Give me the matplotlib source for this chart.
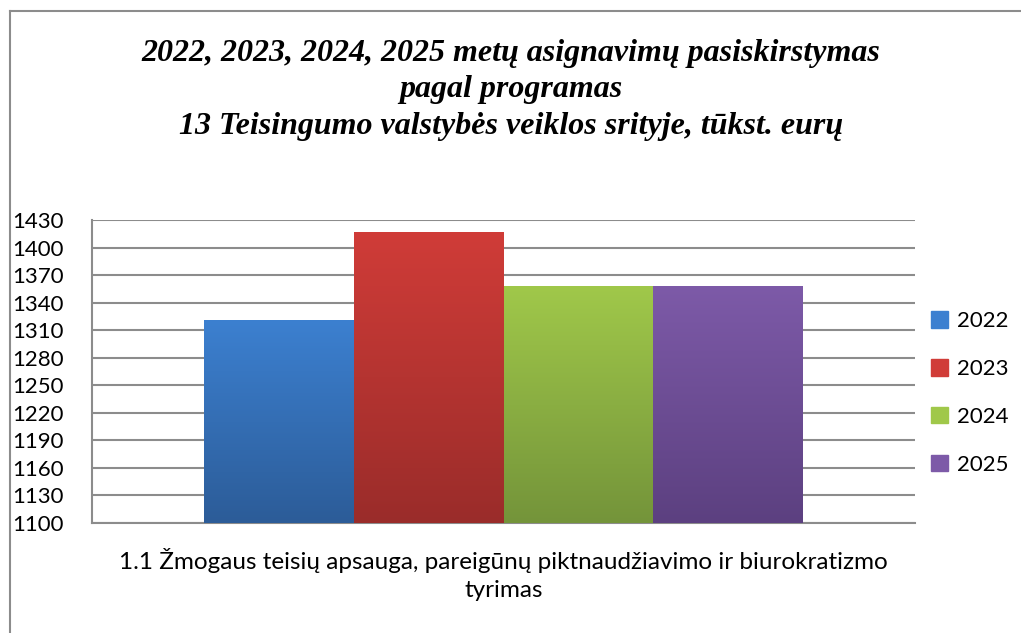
import matplotlib.pyplot as plt
import numpy as np
from matplotlib.colors import LinearSegmentedColormap
from matplotlib.lines import Line2D

# data
years = ['2022', '2023', '2024', '2025']
values = [1321, 1417, 1358, 1358]
category = '1.1 Žmogaus teisių apsauga, pareigūnų piktnaudžiavimo ir biurokratizmo\ntyrimas'
yticks = [1100, 1130, 1160, 1190, 1220, 1250, 1280, 1310, 1340, 1370, 1400, 1430]

# gradient colours (top, bottom)
colors_top = ['#3C80D0', '#D03C38', '#A0C84A', '#7D5AA8']
colors_bot = ['#2C5C98', '#9A2C2A', '#74943A', '#5C4080']

fig = plt.figure(figsize=(10.21, 6.33), dpi=100)
fig.patch.set_facecolor('white')

# outer frame (clipped at right and bottom like the source)
fig.add_artist(Line2D([10/1021, 10/1021], [0, 1 - 11/633], color='#8c8c8c', lw=1.5))
fig.add_artist(Line2D([10/1021, 1], [1 - 11/633, 1 - 11/633], color='#8c8c8c', lw=1.5))

ax = fig.add_axes([92/1021, 1 - 523/633, (915 - 92)/1021, (523 - 220)/633])

width = 0.182
offsets = (np.arange(len(years)) - 1.5) * width

grad = np.linspace(0, 1, 256).reshape(-1, 1)
for i, (yr, v) in enumerate(zip(years, values)):
    bar = ax.bar(offsets[i], v - 1100, width, bottom=1100, color=colors_top[i],
                 label=yr, zorder=3, linewidth=0)[0]
    cmap = LinearSegmentedColormap.from_list('g%d' % i, [colors_bot[i], colors_top[i]])
    x0 = bar.get_x()
    im = ax.imshow(grad, cmap=cmap, aspect='auto', origin='lower',
                   extent=[x0, x0 + bar.get_width(), 1100, v], zorder=3)
    im.set_clip_path(bar)
    bar.set_facecolor('none')

ax.set_xlim(-0.5, 0.5)
ax.set_ylim(1100, 1430)
ax.set_yticks(yticks)
ax.set_yticklabels([str(t) for t in yticks], fontsize=16, family='Lato')
for lbl in ax.get_yticklabels():
    lbl.set_horizontalalignment('left')
ax.tick_params(axis='y', length=0, pad=57.5)
ax.set_xticks([0])
ax.set_xticklabels([category], fontsize=17.5, family='Lato', linespacing=1.4)
ax.tick_params(axis='x', length=0, pad=18)

ax.grid(axis='y', color='#8c8c8c', lw=1.5, zorder=0)
ax.set_axisbelow(True)
for s in ['top', 'right']:
    ax.spines[s].set_visible(False)
for s in ['left', 'bottom']:
    ax.spines[s].set_color('#8c8c8c')
    ax.spines[s].set_linewidth(1.5)

# legend
handles = [plt.Rectangle((0, 0), 1, 1, color=colors_top[i]) for i in range(len(years))]
fig.legend(handles, years, loc='center left', bbox_to_anchor=(911/1021, 1 - 393/633),
           frameon=False, prop={'family': 'Lato', 'size': 16},
           handlelength=0.75, handleheight=0.75, handletextpad=0.4, labelspacing=1.25)

fig.text(511/1021, 1 - 90/633,
         '2022, 2023, 2024, 2025 metų asignavimų pasiskirstymas\npagal programas\n'
         '13 Teisingumo valstybės veiklos srityje, tūkst. eurų',
         ha='center', va='center', fontsize=23, family='Liberation Serif',
         fontweight='bold', style='italic', linespacing=1.32)

fig.savefig('out.png', dpi=100, facecolor='white')
